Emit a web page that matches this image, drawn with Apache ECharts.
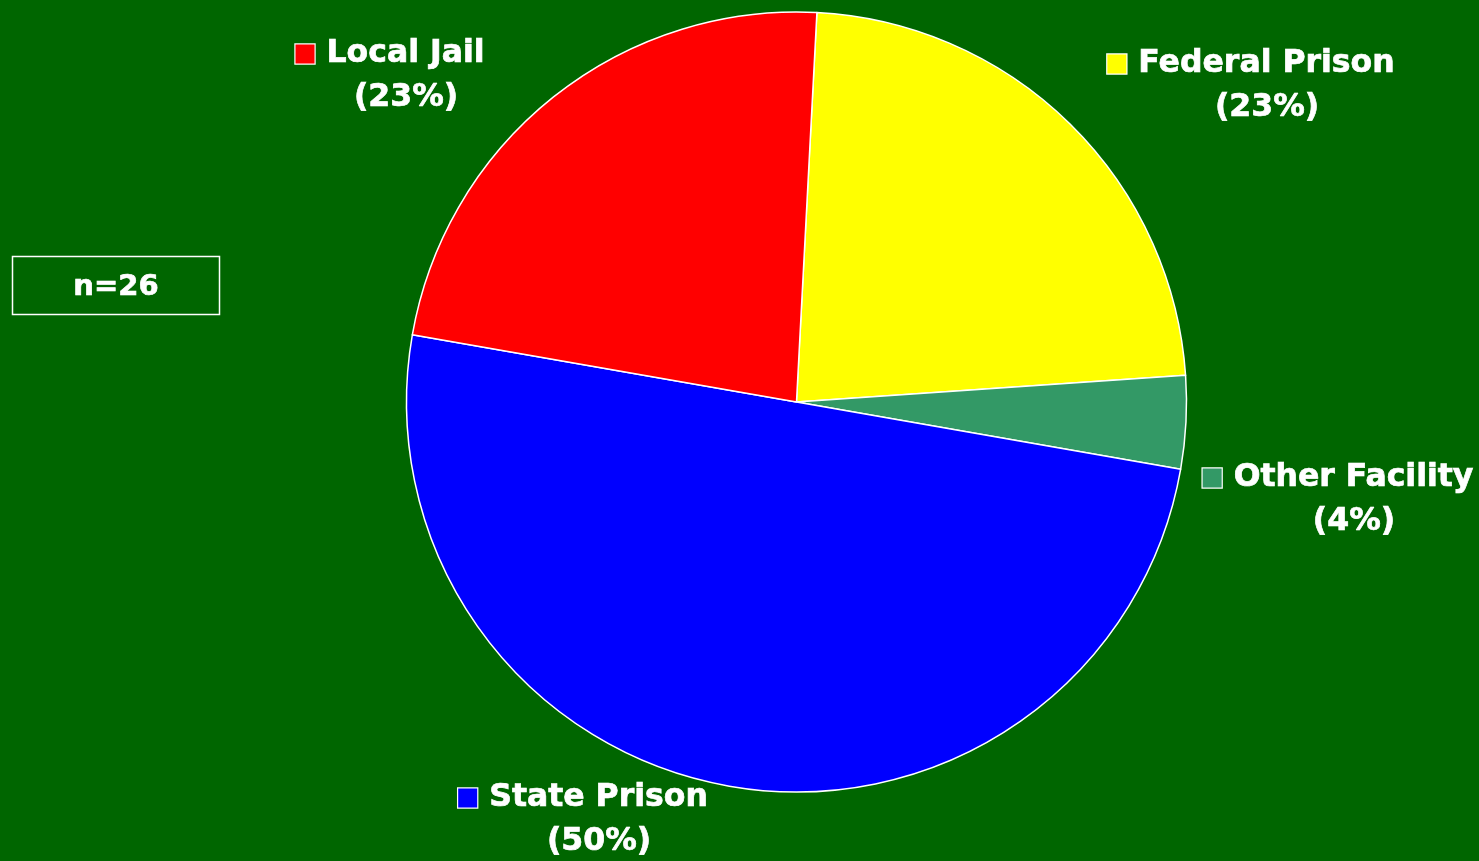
<!DOCTYPE html>
<html>
<head>
<meta charset="utf-8">
<script src="https://cdn.jsdelivr.net/npm/echarts@6/dist/echarts.min.js"></script>
<style>
html,body{margin:0;padding:0;background:#006600;}
#chart{width:1479px;height:861px;}
</style>
</head>
<body>
<div id="chart"></div>
<script>
// Data
const categories = ['Federal Prison', 'Other Facility', 'State Prison', 'Local Jail'];
const counts = [6, 1, 13, 6];
const sampleLabel = 'n=26';

// Styles / layout
const colors = ['#FFFF00', '#339966', '#0000FF', '#FF0000'];
const labelCenters = [[1251, 86], [1338, 500], [583, 820], [390, 76]];
const FONT = '"DejaVu Sans"';

const textCommon = { color: '#fff', fontFamily: FONT, fontWeight: 'bold', fontSize: 31.5, lineHeight: 44, textBorderColor: '#fff', textBorderWidth: 0.7 };
const rich = {
  name: Object.assign({}, textCommon),
  pct: Object.assign({}, textCommon, { padding: [0, 0, 0, 32] })
};
colors.forEach((c, i) => {
  rich['sq' + i] = { width: 19, height: 19, backgroundColor: c, borderColor: '#fff', borderWidth: 1.2, lineHeight: 44 };
  rich['gap' + i] = { width: 12, lineHeight: 44 };
});

const chart = echarts.init(document.getElementById('chart'));
chart.setOption({
  backgroundColor: '#006600',
  animation: false,
  graphic: [
    { type: 'rect', shape: { x: 12.5, y: 256.5, width: 207, height: 58 }, style: { fill: 'none', stroke: '#fff', lineWidth: 1.5 } },
    { type: 'text', x: 116, y: 287, style: { text: sampleLabel, fill: '#fff', font: 'bold 29px ' + FONT, align: 'center', verticalAlign: 'middle', stroke: '#fff', lineWidth: 0.7 } }
  ],
  series: [{
    type: 'pie',
    center: [796.5, 402],
    radius: 390,
    startAngle: 87,
    clockwise: true,
    percentPrecision: 0,
    avoidLabelOverlap: false,
    itemStyle: { borderColor: '#fff', borderWidth: 1.5 },
    label: {
      show: true,
      position: 'outside',
      formatter: p => `{sq${p.dataIndex}|}{gap${p.dataIndex}|}{name|${p.name}}\n{pct|(${p.percent}%)}`,
      align: 'center',
      rich: rich
    },
    labelLine: { show: false },
    labelLayout: params => ({
      x: labelCenters[params.dataIndex][0],
      y: labelCenters[params.dataIndex][1],
      align: 'center',
      verticalAlign: 'middle'
    }),
    emphasis: { disabled: true },
    data: categories.map((n, i) => ({ name: n, value: counts[i], itemStyle: { color: colors[i] } }))
  }]
});
</script>
</body>
</html>
